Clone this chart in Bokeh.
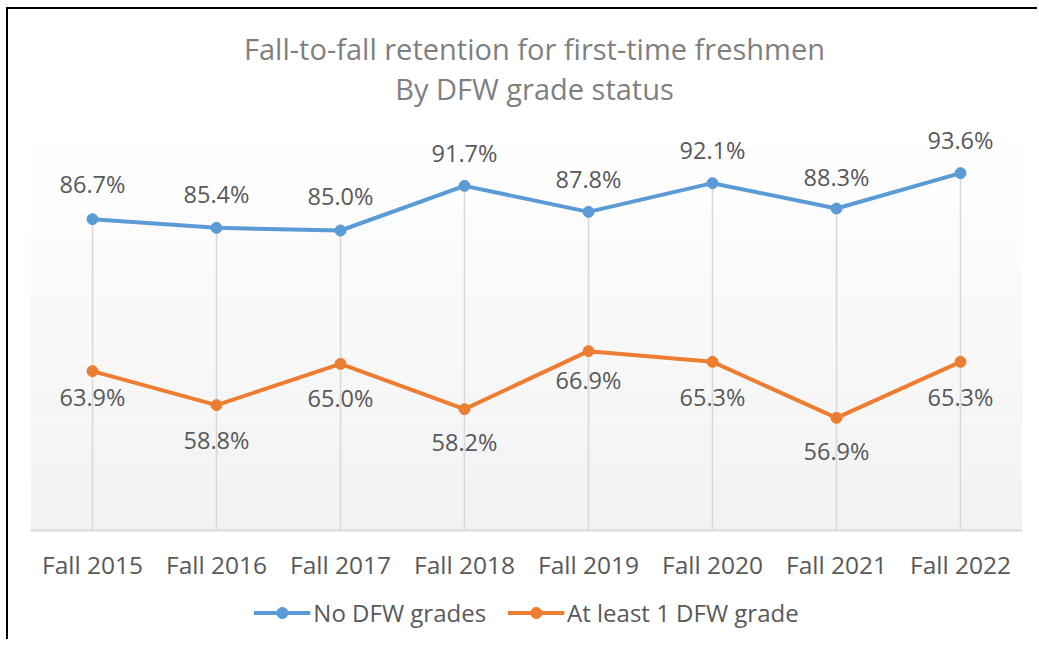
import numpy as np
from bokeh.plotting import figure
from bokeh.layouts import column
from bokeh.models import ColumnDataSource, Legend, LegendItem, BoxAnnotation, FactorRange
from bokeh.embed import file_html
from bokeh.resources import INLINE
from bokeh.core.properties import value

# ---------------- data ----------------
categories = ["Fall 2015", "Fall 2016", "Fall 2017", "Fall 2018",
              "Fall 2019", "Fall 2020", "Fall 2021", "Fall 2022"]
no_dfw = [86.7, 85.4, 85.0, 91.7, 87.8, 92.1, 88.3, 93.6]
at_least_one_dfw = [63.9, 58.8, 65.0, 58.2, 66.9, 65.3, 56.9, 65.3]
series_names = ["No DFW grades", "At least 1 DFW grade"]
title_lines = ["Fall-to-fall retention for first-time freshmen", "By DFW grade status"]
y_min, y_max = 40, 100

# ---------------- styles ----------------
FONT = "Open Sans"
BLUE = "#5b9bd5"
ORANGE = "#ed7d31"
TEXT = "#595959"
TITLE = "#7f7f7f"
GRID = "#d9d9d9"
W = 1029
# label placement (pixels from the point), as in the source chart
label_gap_a = [-35, -34, -35, -33, -33, -33, -32, -33]
label_gap_b = [26, 35, 34, 33, 29, 35, 33, 35]

# ---------------- title strip ----------------
pt = figure(width=W, height=100, x_range=(0, 1), y_range=(0, 100),
            x_axis_type=None, y_axis_type=None, min_border=0,
            output_backend="svg", toolbar_location=None)
pt.outline_line_color = None
pt.grid.visible = False
pt.text(x=[0.5, 0.5], y=[61, 21], text=title_lines, x_offset=8,
        text_align="center", text_baseline="middle",
        text_font=value(FONT), text_font_size="29px", text_color=TITLE)

# ---------------- main chart ----------------
src = ColumnDataSource(dict(
    cat=categories,
    a=no_dfw,
    b=at_least_one_dfw,
    a_lbl=[f"{v:.1f}%" for v in no_dfw],
    b_lbl=[f"{v:.1f}%" for v in at_least_one_dfw],
    a_dy=label_gap_a,
    b_dy=label_gap_b,
    base=[y_min] * len(categories),
))

p = figure(
    width=W, height=476,
    x_range=FactorRange(*categories, range_padding=0),
    y_range=(y_min, y_max),
    y_axis_type=None,
    output_backend="svg", toolbar_location=None,
    min_border_left=22, min_border_right=W - 22 - 992,
    min_border_top=21, min_border_bottom=55,
)
p.outline_line_color = None
p.grid.visible = False

# gradient background (white at top -> light grey at bottom)
n_bands = 60
edges = np.linspace(y_min, y_max, n_bands + 1)
for i in range(n_bands):
    t = (edges[i] + edges[i + 1]) / 2
    f = (t - y_min) / (y_max - y_min)
    g = int(round(242 + (255 - 242) * f))
    p.add_layout(BoxAnnotation(bottom=edges[i], top=edges[i + 1],
                               fill_color=(g, g, g), fill_alpha=1.0,
                               line_color=None, level="underlay"))

# drop lines
p.segment(x0="cat", y0="a", x1="cat", y1="base", source=src,
          line_color=GRID, line_width=1.6)

# series
p.line("cat", "a", source=src, line_color=BLUE, line_width=4)
p.scatter("cat", "a", source=src, size=11, fill_color=BLUE, line_color=BLUE)
p.line("cat", "b", source=src, line_color=ORANGE, line_width=4)
p.scatter("cat", "b", source=src, size=11, fill_color=ORANGE, line_color=ORANGE)

# data labels
p.text("cat", "a", text="a_lbl", source=src, y_offset="a_dy",
       text_align="center", text_baseline="middle",
       text_font=value(FONT), text_font_size="23.5px", text_color=TEXT)
p.text("cat", "b", text="b_lbl", source=src, y_offset="b_dy",
       text_align="center", text_baseline="middle",
       text_font=value(FONT), text_font_size="23.5px", text_color=TEXT)

# x axis
xa = p.xaxis[0]
xa.axis_line_color = GRID
xa.axis_line_width = 2
xa.major_tick_line_color = None
xa.minor_tick_line_color = None
xa.major_label_text_font = FONT
xa.major_label_text_font_size = "24.5px"
xa.major_label_text_color = TEXT
xa.major_label_standoff = 11

# ---------------- legend strip ----------------
pl = figure(width=W, height=54, x_range=(0, 1), y_range=(0, 1),
            x_axis_type=None, y_axis_type=None, min_border=0, min_border_left=20,
            output_backend="svg", toolbar_location=None)
pl.outline_line_color = None
pl.grid.visible = False
# legend swatches only: a point kept outside the visible range
hidden = ColumnDataSource(dict(x=[-5], y=[-5]))
lla = pl.line("x", "y", source=hidden, line_color=BLUE, line_width=4)
lsa = pl.scatter("x", "y", source=hidden, size=11, fill_color=BLUE, line_color=BLUE)
llb = pl.line("x", "y", source=hidden, line_color=ORANGE, line_width=4)
lsb = pl.scatter("x", "y", source=hidden, size=11, fill_color=ORANGE, line_color=ORANGE)
legend = Legend(items=[
    LegendItem(label=series_names[0], renderers=[lla, lsa]),
    LegendItem(label=series_names[1], renderers=[llb, lsb]),
], orientation="horizontal", location="center",
    border_line_color=None, background_fill_alpha=0,
    label_text_font=FONT, label_text_font_size="24px", label_text_color=TEXT,
    glyph_width=57, glyph_height=28, label_standoff=3, spacing=21,
    margin=0, padding=4)
pl.add_layout(legend, "center")

layout = column(pt, p, pl, margin=(7, 0, 0, 6),
                styles={"border-left": "2px solid black", "border-top": "2px solid black"})

open("out.html", "w").write(file_html(layout, INLINE))
